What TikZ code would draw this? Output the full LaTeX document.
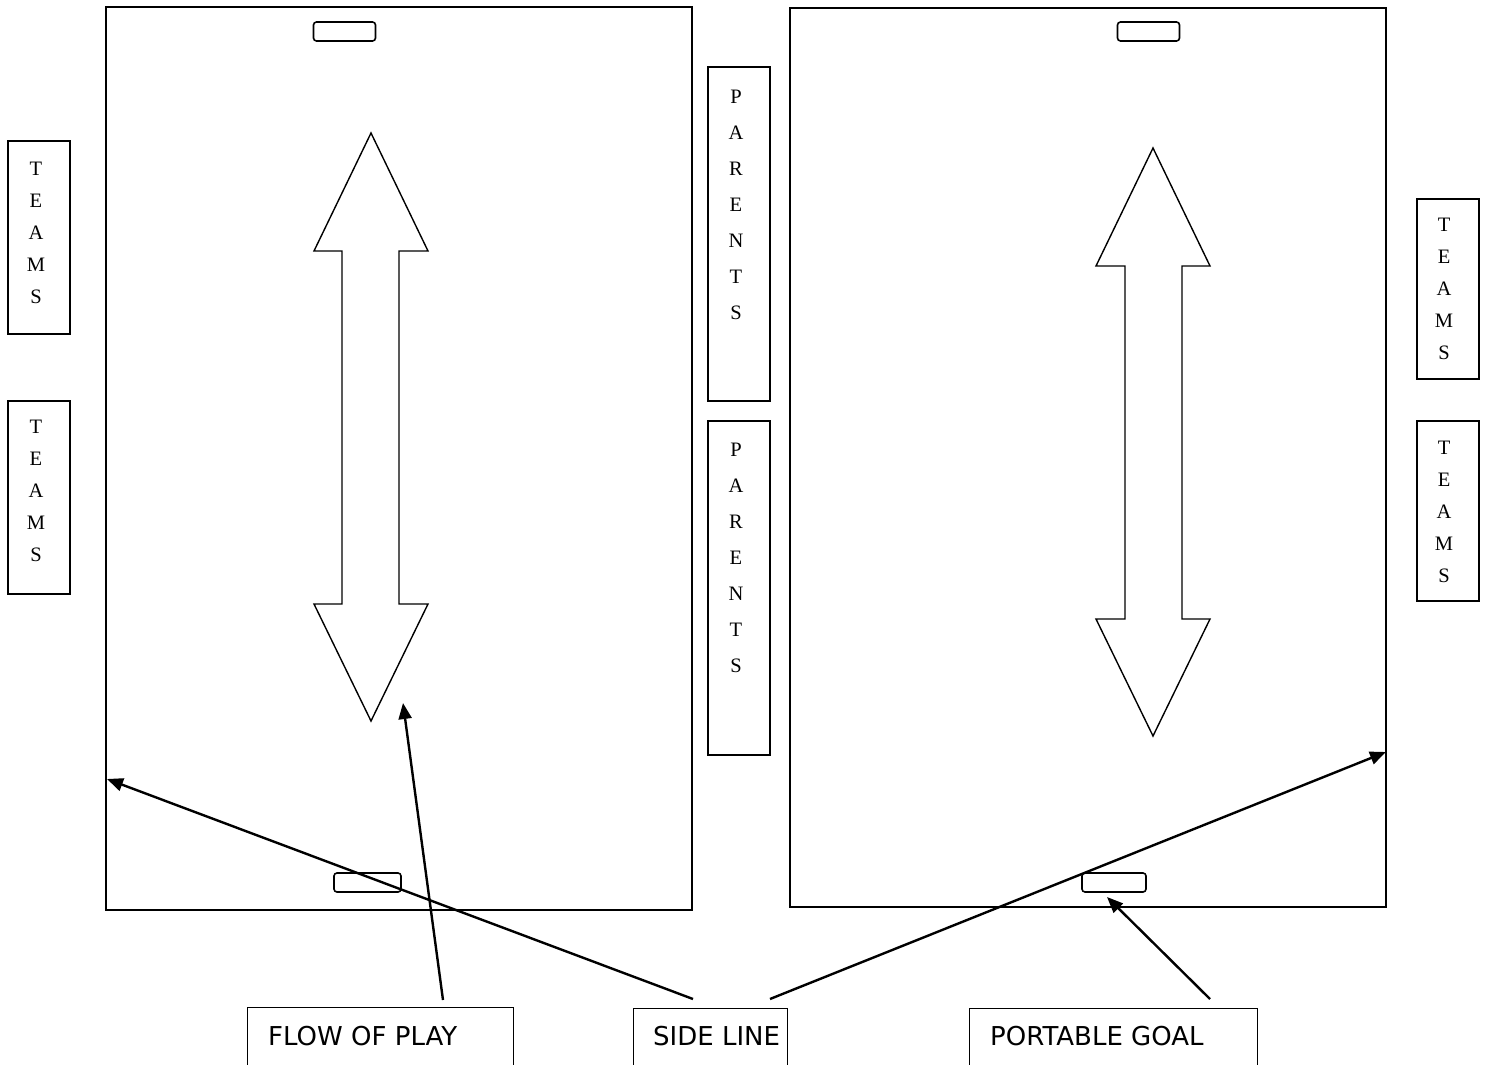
\documentclass[tikz,border=0pt]{standalone}
\usepackage{fontspec}
\setmainfont{Liberation Serif}
\newfontfamily\labelfont{DejaVu Sans}
\usetikzlibrary{arrows.meta}
\begin{document}
\begin{tikzpicture}[x=1pt,y=-1pt,
 field/.style={draw, line width=1.7pt},
 goal/.style={draw, line width=1.6pt, rounded corners=3pt, minimum height=19pt, inner sep=0pt},
 bigarrow/.style={draw, line width=1.4pt, line join=miter},
 vbox/.style={draw, line width=1.5pt, minimum width=62pt, inner sep=0pt},
 vletters/.style={align=center, inner sep=0pt, anchor=north, font=\fontsize{20.5}{32}\selectfont},
 pletters/.style={align=center, inner sep=0pt, anchor=north, font=\fontsize{20.5}{36}\selectfont},
 labelbox/.style={draw, line width=1.4pt, anchor=north west, minimum height=120pt, inner sep=0pt},
 labeltext/.style={anchor=base west, inner sep=0pt, font=\labelfont\fontsize{26}{30}\selectfont},
 pointer/.style={line width=2.4pt, -{Triangle[length=16pt,width=13pt]}}
]
\path[use as bounding box, clip] (0,0) rectangle (1486,1065);
\fill[white] (0,0) rectangle (1486,1065);

% fields
\draw[field] (106,7) rectangle (692,910);
\draw[field] (790,8) rectangle (1386,907);

% goals
\node[goal, minimum width=62pt] (gLt) at (344.5,31.5) {};
\node[goal, minimum width=67pt] (gLb) at (367.5,882.5) {};
\node[goal, minimum width=62pt] (gRt) at (1148.5,31.5) {};
\node[goal, minimum width=64pt] (gRb) at (1114,882.5) {};

% flow arrows
\draw[bigarrow] (371,133) -- (428,251) -- (399,251) -- (399,604) -- (428,604) -- (371,721)
  -- (314,604) -- (342,604) -- (342,251) -- (314,251) -- cycle;
\draw[bigarrow] (1153,148) -- (1210,266) -- (1182,266) -- (1182,619) -- (1210,619) -- (1153,736)
  -- (1096,619) -- (1125,619) -- (1125,266) -- (1096,266) -- cycle;

% TEAMS boxes
\node[vbox, minimum height=193pt] (tL1) at (39,237.5) {};
\node[vletters] (tL1t) at (36,162) {T\\E\\A\\M\\S};
\node[vbox, minimum height=193pt] (tL2) at (39,497.5) {};
\node[vletters] (tL2t) at (36,420) {T\\E\\A\\M\\S};
\node[vbox, minimum height=180pt] (tR1) at (1448,289) {};
\node[vletters] (tR1t) at (1444,218) {T\\E\\A\\M\\S};
\node[vbox, minimum height=180pt] (tR2) at (1448,511) {};
\node[vletters] (tR2t) at (1444,441) {T\\E\\A\\M\\S};

% PARENTS boxes
\node[vbox, minimum height=334pt] (p1) at (739,234) {};
\node[pletters] (p1t) at (736,90) {P\\A\\R\\E\\N\\T\\S};
\node[vbox, minimum height=334pt] (p2) at (739,588) {};
\node[pletters] (p2t) at (736,443) {P\\A\\R\\E\\N\\T\\S};

% label boxes
\node[labelbox, minimum width=266pt] (flowbox) at (247,1007) {};
\node[labeltext] (flowtxt) at (268,1045) {FLOW OF PLAY};
\node[labelbox, minimum width=154pt] (sidebox) at (633,1008) {};
\node[labeltext] (sidetxt) at (653,1045) {SIDE LINE};
\node[labelbox, minimum width=288pt] (goalbox) at (969,1008) {};
\node[labeltext] (goaltxt) at (990,1045) {PORTABLE GOAL};

% pointers
\coordinate (flowfoot) at (443,1000);
\coordinate (flowtip) at (403,703);
\coordinate (sidefootL) at (693,999);
\coordinate (sidetipL) at (107,779);
\coordinate (sidefootR) at (770,999);
\coordinate (sidetipR) at (1386,752);
\coordinate (goalfoot) at (1210,999);
\coordinate (goaltip) at (1107,897);
\draw[pointer] (flowfoot) -- (flowtip);
\draw[pointer] (sidefootL) -- (sidetipL);
\draw[pointer] (sidefootR) -- (sidetipR);
\draw[pointer] (goalfoot) -- (goaltip);
\end{tikzpicture}
\end{document}
